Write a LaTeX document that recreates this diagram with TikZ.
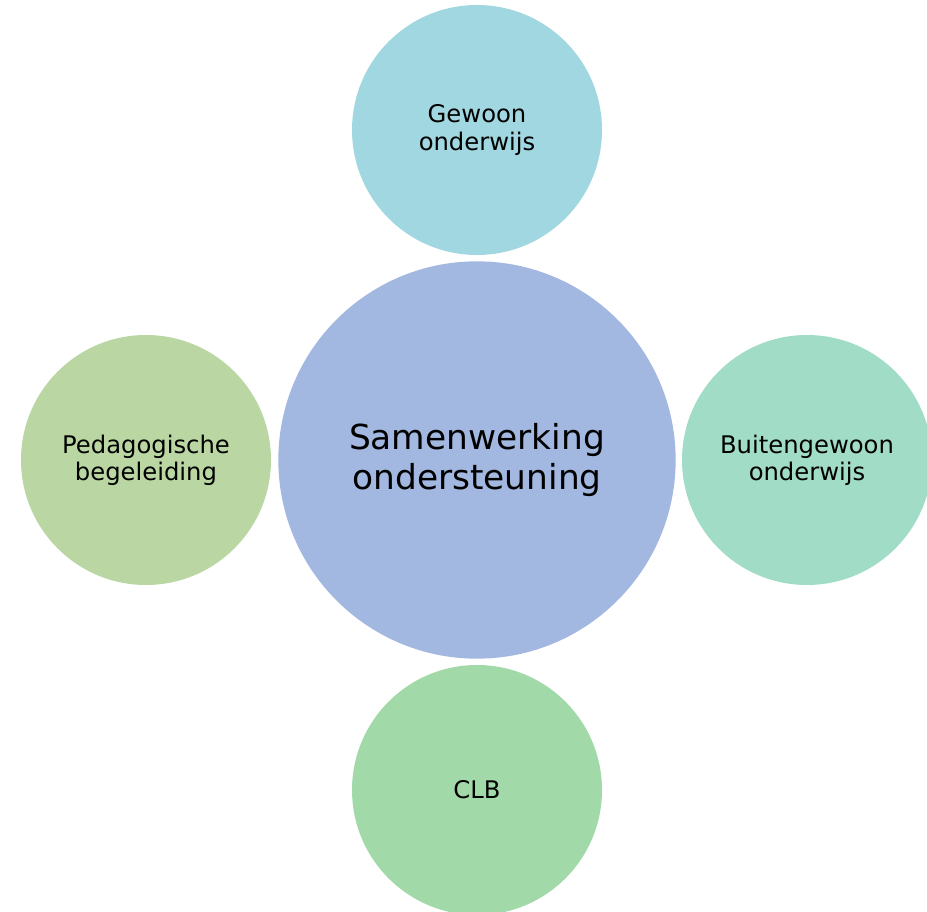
\documentclass[tikz,border=0pt]{standalone}
\usepackage{fontspec}
\setmainfont{DejaVu Sans}
\usepackage{tikz}

\definecolor{HubBlue}{HTML}{A2B8E0}
\definecolor{TopCyan}{HTML}{A1D7E0}
\definecolor{LeftGreen}{HTML}{B9D6A3}
\definecolor{RightMint}{HTML}{A1DCC7}
\definecolor{BottomGreen}{HTML}{A2D9A8}

\begin{document}
\begin{tikzpicture}[x=0.75pt, y=-0.75pt,
  bubble/.style={circle, inner sep=0pt, minimum size=187.5pt, align=center,
    font=\fontsize{18.2}{20.3}\selectfont}]
\useasboundingbox (0,0) rectangle (927,912);
\clip (0,0) rectangle (927,912);

\node[circle, inner sep=0pt, minimum size=298pt, fill=HubBlue, align=center,
  font=\fontsize{25.8}{30}\selectfont] (hub) at (477,460) {Samenwerking\\ondersteuning};

\node[bubble, fill=TopCyan] (gewoon) at (477,130) {Gewoon\\onderwijs};
\node[bubble, fill=LeftGreen] (pedagogisch) at (146,460) {Pedagogische\\begeleiding};
\node[bubble, fill=RightMint] (buitengewoon) at (807,460) {Buitengewoon\\onderwijs};
\node[bubble, fill=BottomGreen] (clb) at (477,790) {CLB};

\end{tikzpicture}
\end{document}
